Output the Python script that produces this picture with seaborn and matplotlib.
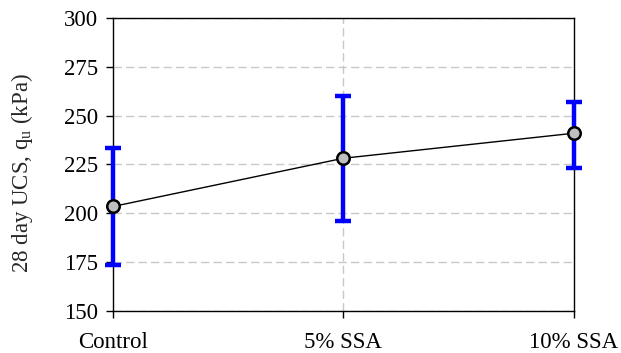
import matplotlib
matplotlib.use("Agg")
import matplotlib.pyplot as plt
import seaborn as sns
import numpy as np
import pandas as pd

categories = ["Control", "5% SSA", "10% SSA"]
ucs_mean = [203.5, 228.2, 241.0]
ucs_upper = [233.6, 260.2, 257.2]
ucs_lower = [173.6, 195.9, 223.2]

sns.set_style("white")
plt.rcParams['font.family'] = ['Liberation Serif', 'DejaVu Serif']
plt.rcParams['mathtext.fontset'] = 'custom'
plt.rcParams['mathtext.rm'] = 'Liberation Serif'

df = pd.DataFrame({"pos": np.arange(len(categories)), "cat": categories, "ucs": ucs_mean})

fig = plt.figure(figsize=(6.21, 3.53), dpi=100)
ax = fig.add_axes([0.182, 0.119, 0.742, 0.830])

yerr = [np.array(ucs_mean) - np.array(ucs_lower), np.array(ucs_upper) - np.array(ucs_mean)]
ax.errorbar(df["pos"], df["ucs"], yerr=yerr, fmt="none", ecolor="#0000FF",
            elinewidth=3.2, capsize=6, capthick=3.2, zorder=3, clip_on=False)
sns.lineplot(data=df, x="pos", y="ucs", ax=ax, color="black", linewidth=1,
             marker="o", markersize=9, markerfacecolor="#C0C0C0",
             markeredgecolor="black", markeredgewidth=1.8, zorder=4, clip_on=False)

ax.set_xlim(0, 2)
ax.set_ylim(150, 300)
ax.set_yticks(np.arange(150, 301, 25))
ax.set_xticks(df["pos"])
ax.set_xticklabels(categories)
ax.set_xlabel("")
ax.set_ylabel(r"28 day UCS, q$_\mathregular{u}$ (kPa)", fontsize=16.5)
ax.yaxis.set_label_coords(-0.17, 0.47)

for s in ax.spines.values():
    s.set_color("black")
    s.set_linewidth(1)

ax.grid(True, axis="y", color="#C8C8C8", linestyle=(0, (6, 3)), linewidth=1)
ax.axvline(1, color="#C8C8C8", linestyle=(0, (6, 3)), linewidth=1, zorder=0)
ax.set_axisbelow(True)

ax.tick_params(axis="both", direction="out", length=5, width=1, colors="black",
               labelsize=16.5, left=True, bottom=True)
ax.tick_params(axis="y", pad=6)
ax.tick_params(axis="x", pad=10)

fig.savefig("out.png", dpi=100)
